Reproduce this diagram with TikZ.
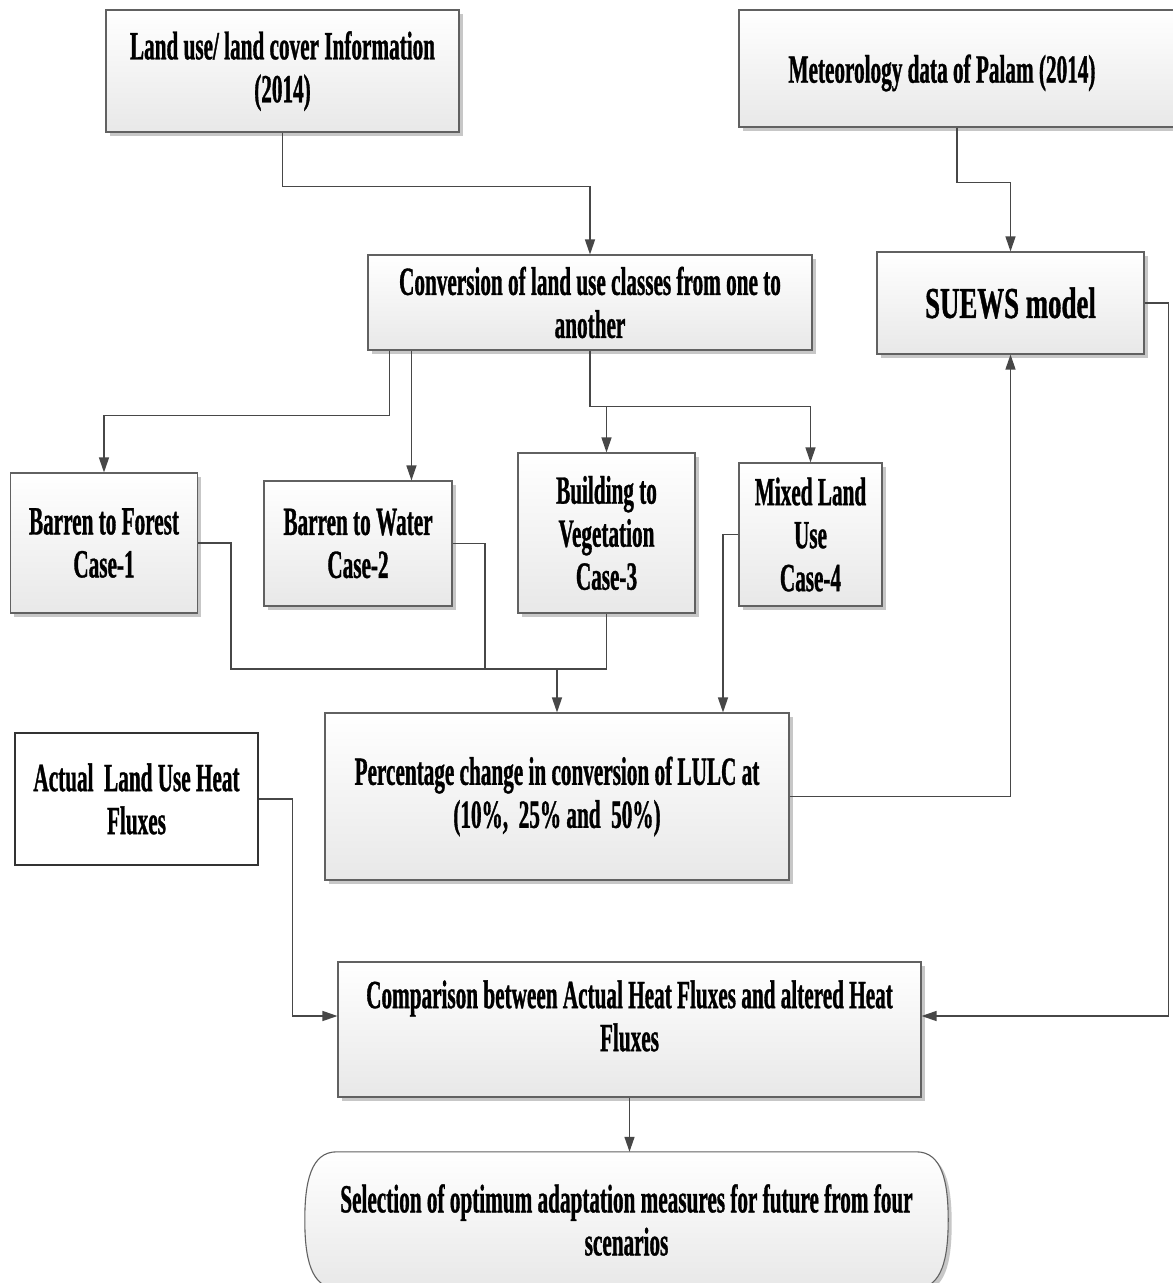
\documentclass[tikz,border=0pt]{standalone}
\usepackage{fontspec}
\setmainfont[FakeStretch=0.53,FakeBold=0.8]{Liberation Serif}
\newfontfamily\suewsfont[FakeStretch=0.61,FakeBold=0.8]{Liberation Serif}
\usetikzlibrary{arrows.meta,shadows,calc}

\begin{document}
\begin{tikzpicture}[x=1pt,y=-1pt,
  lbl/.style={align=center, inner sep=0pt, font=\bfseries\fontsize{40}{43}\selectfont},
  boxlook/.style={draw=black!62, line width=1.1pt, top color=white, bottom color=black!9,
    drop shadow={shadow xshift=3.5pt, shadow yshift=-3.5pt, fill=black!22, opacity=1}},
  box/.style={boxlook, lbl},
  plainbox/.style={draw=black!80, line width=1.1pt, fill=white, lbl},
  ln/.style={draw=black!72, line width=1.3pt},
  arr/.style={ln, -{Triangle[length=15pt,width=10pt]}},
]
\fill[white] (0,0) rectangle (1173,1283);
\useasboundingbox (0,0) rectangle (1173,1283);

% input boxes
\node[box, minimum width=353, minimum height=122] (land) at (282.5,71)
  {Land use/ land cover Information\\(2014)};
\node[box, minimum width=441, minimum height=117] (meteo) at (959.5,68.5) {};
\node[lbl] (meteot) at (942,73) {Meteorology data of Palam (2014)};

% processing boxes
\node[box, minimum width=444, minimum height=95] (conv) at (590,302.5)
  {Conversion of land use classes from one to\\another};
\node[boxlook, inner sep=0pt, minimum width=267, minimum height=102,
  font=\suewsfont\bfseries\fontsize{44}{49}\selectfont] (suews) at (1010.5,303) {SUEWS model};

% the four conversion cases
\node[box, minimum width=187, minimum height=140] (forest) at (104,543) {Barren to Forest\\Case-1};
\node[box, minimum width=188, minimum height=125] (water) at (358,543.5) {Barren to Water\\Case-2};
\node[box, minimum width=177, minimum height=160] (bldg) at (606.5,533) {Building to\\Vegetation\\Case-3};
\node[box, minimum width=143, minimum height=143] (mixed) at (810.5,534.5) {Mixed Land\\Use\\Case-4};

\node[box, minimum width=464, minimum height=167] (pct) at (557,796.5)
  {Percentage change in conversion of LULC at\\(10\%,~ 25\% and~ 50\%)};
\node[plainbox, minimum width=243, minimum height=132] (actual) at (136.5,799)
  {Actual~ Land Use Heat\\Fluxes};

\node[box, minimum width=583, minimum height=135] (comp) at (629.5,1029.5) {};
\node[lbl] (compt) at (629.5,1016)
  {Comparison between Actual Heat Fluxes and altered Heat\\Fluxes};

% terminal shape with flattened round ends
\node[inner sep=0pt, minimum width=643, minimum height=136] (sel) at (626.5,1220) {};
\path[boxlook]
  ([xshift=32pt]sel.north west) -- ([xshift=-32pt]sel.north east)
  .. controls ([xshift=-6pt]sel.north east) and ([yshift=38pt]sel.east) .. (sel.east)
  .. controls ([yshift=-38pt]sel.east) and ([xshift=-6pt]sel.south east) .. ([xshift=-32pt]sel.south east)
  -- ([xshift=32pt]sel.south west)
  .. controls ([xshift=6pt]sel.south west) and ([yshift=-38pt]sel.west) .. (sel.west)
  .. controls ([yshift=38pt]sel.west) and ([xshift=6pt]sel.north west) .. cycle;
\node[lbl] (selt) at (sel.center)
  {Selection of optimum adaptation measures for future from four\\scenarios};

% connectors
\draw[arr] (land.south) -- ++(0,54) -| (conv.north);
\draw[arr] ([xshift=-2.5pt]meteo.south) -- ++(0,55) -| (suews.north);

\draw[arr] ([xshift=22pt]conv.south west) -- ++(0,65) -| (forest.north);
\coordinate (c2) at ([xshift=44pt]conv.south west);
\draw[arr] (c2) -- (c2 |- water.north);
\draw[arr] (conv.south) -- ++(0,56) coordinate (j1) -| (mixed.north);
\draw[arr] (j1 -| bldg.north) -- (bldg.north);

\coordinate (bus) at (231,669);
\coordinate (busw) at (485,669);
\draw[ln] (forest.east) -| (bus) -- (bus -| bldg.south) -- (bldg.south);
\draw[ln] (water.east) -| (busw);
\draw[arr] (bus -| pct.north) -- (pct.north);
\coordinate (mk) at (723,0);
\draw[arr] (mixed.west) -| (mk |- pct.north);

\draw[arr] (pct.east) -| (suews.south);
\draw[arr] (suews.east) -- ++(24,0) |- (comp.east |- compt);
\draw[arr] (actual.east) -- ++(34,0) |- (comp.west |- compt);
\draw[arr] (comp.south) -- (comp.south |- sel.north);
\end{tikzpicture}
\end{document}
